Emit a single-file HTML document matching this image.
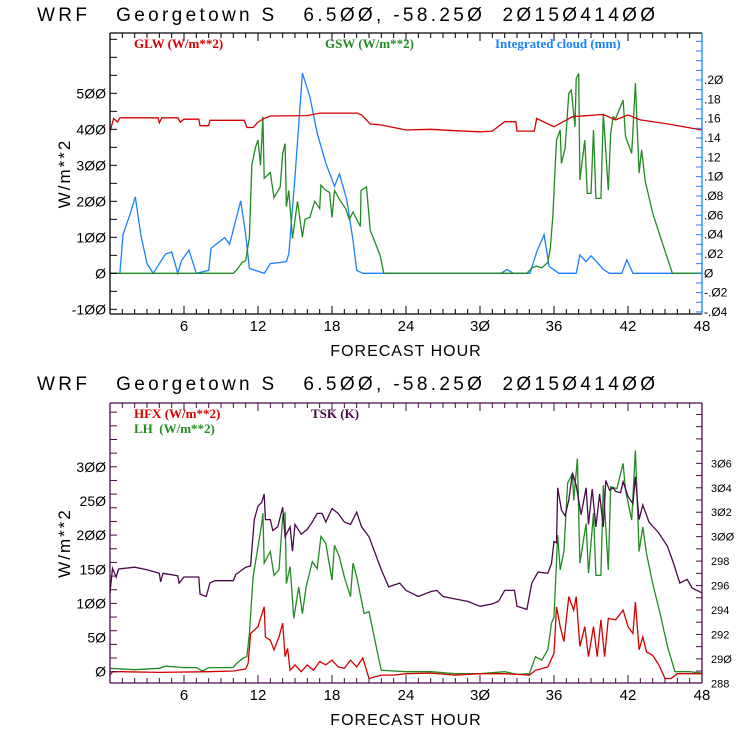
<!DOCTYPE html>
<html><head><meta charset="utf-8"><style>
html,body{margin:0;padding:0;background:#fff;}
svg{display:block;}
text{white-space:pre;}
</style></head><body>
<svg id="c" width="740" height="740" viewBox="0 0 740 740" xmlns="http://www.w3.org/2000/svg" font-family="'Liberation Sans', sans-serif"></svg>
<script>
// ---------- DATA ----------
const glwHours=[0,0.3,0.6,0.8,3.9,4.0,4.2,5.5,5.7,6.0,7.2,7.3,8.0,8.1,10.9,11.1,11.6,12.0,12.5,13,16,17,20,20.4,21.1,22,24,26,28,30,31,32,32.9,33,34.4,34.6,36,37.5,40,41,42,43,45,48];
const glwVals=[395,430,420,432,432,418,432,432,420,428,428,410,410,425,425,405,405,420,430,437,438,445,445,440,415,412,398,400,396,393,395,421,421,395,395,430,407,435,441,426,440,426,416,398];
const cldHours=[0,0.8,1.05,1.6,2.05,2.5,3.0,3.5,4.5,5.0,5.5,5.8,6.4,7.0,8.0,8.2,9.3,9.7,10.0,10.6,11.0,11.3,12.5,13.0,14.3,14.5,15.0,15.6,16.2,16.8,17.5,18.2,18.6,19.2,19.7,20.0,20.5,31.7,32.2,32.7,34.05,34.6,35.2,35.6,36.4,37.8,38.1,38.6,39.0,39.6,40.0,40.5,41.5,41.9,42.4,48];
const cldVals=[0,0,0.04,0.06,0.079,0.04,0.01,0,0.02,0.022,0,0.013,0.024,0,0.003,0.026,0.037,0.03,0.045,0.075,0.04,0.005,0,0.01,0.012,0.02,0.1,0.207,0.183,0.145,0.114,0.09,0.103,0.076,0.034,0.003,0,0,0.004,0,0,0.022,0.04,0.007,0,0,0.019,0.012,0.018,0.01,0.004,0,0,0.014,0,0];
const gswHours=[0,10,10.3,10.7,11,11.3,11.5,11.8,12,12.2,12.4,12.5,13,13.3,13.8,14,14.2,14.3,14.5,14.8,15.2,15.6,15.8,16.2,16.6,17,17.1,17.5,17.8,18,18.2,18.7,19.1,19.4,19.7,20.3,20.35,20.8,21.1,21.9,22.2,33.8,34.2,34.6,35,35.5,35.7,35.9,36.2,36.5,36.6,36.9,37.2,37.4,37.7,37.8,38,38.1,38.5,38.7,39,39.2,39.4,39.8,40,40.4,40.6,40.8,41,41.6,41.8,42.3,42.6,42.9,43.1,43.4,44,44.8,45.6,48];
const gswVals=[0,0,10,30,35,100,300,350,370,300,435,264,280,210,240,333,360,185,230,97,200,100,150,155,200,180,245,230,225,155,230,200,180,150,170,130,230,240,120,50,0,0,15,20,15,30,69,157,370,398,305,347,500,509,407,541,555,259,370,222,222,398,208,208,444,231,389,435,430,481,380,333,528,278,343,255,167,83,0,0];
const tskHours=[0,0.2,0.5,0.7,2,3,4,4.1,4.3,5.5,5.6,6,7.2,7.3,7.8,8.1,8.5,10,10.2,11,11.4,11.5,11.7,12,12.3,12.5,12.6,13,13.2,13.6,14,14.2,14.6,14.8,15,15.5,16,16.4,16.8,17.2,17.5,18,18.5,19,19.5,20,20.4,21,22,22.6,23.5,24,25,26,26.5,27,28,29,30,31,31.5,32,32.8,33,33.8,34.2,34.7,35.5,35.8,36,36.2,36.3,36.6,36.9,37.2,37.5,37.8,38.2,38.6,38.8,39.1,39.4,39.7,40,40.2,40.5,40.8,41,41.4,41.6,42,42.4,42.6,42.9,43.2,43.7,44.5,45.2,45.7,46.2,46.8,47.2,48];
const tskVals=[295.4,297.4,296.7,297.35,297.5,297.3,297.0,296.3,297.0,296.8,296.2,296.7,296.7,295.3,295.1,296.2,296.4,296.4,296.9,297.5,297.6,298.9,301.4,302.5,302.8,303.5,301.4,301.4,300.5,300.8,302.4,300,300.8,298.8,301,300.2,300.6,301.2,301.9,301.9,301.2,302.3,301.9,301.2,301,302,300.8,300,297.3,295.9,296.2,295.6,295.1,295.5,295.6,295.1,294.9,294.7,294.3,294.5,294.7,295.6,295.6,294.3,294.05,296.2,297.1,297,297.8,299.6,299.5,304,302.2,301.7,303,305.2,304.2,301.8,304,301,303.9,300.8,303.5,300.8,304.6,303.8,304,303.7,303.6,304.5,303.3,302.7,304.9,301.4,302.6,301.2,300.3,299.2,297.8,296.2,296.5,295.8,295.4];
const lhHours=[0,2,4,4.5,6,7,7.5,8,10,10.2,10.8,11.1,11.3,11.6,12,12.3,12.4,12.5,13,13.3,13.7,14,14.2,14.3,14.6,14.9,15.3,15.6,15.9,16.4,16.8,17.1,17.5,18,18.2,18.6,19,19.5,19.7,20,20.6,21,21.7,22,24,26,28,30,32,33,34,34.5,35,35.5,35.8,36,36.3,36.5,36.8,37.1,37.5,37.6,37.9,38.1,38.6,38.8,39.2,39.4,39.8,40,40.4,40.6,41.1,41.6,41.8,42.3,42.6,42.9,43.2,43.5,44,44.6,45.2,45.8,47,48];
const lhVals=[5,3,5,8,6,6,1,6,6,11,20,22,56,139,183,217,232,159,176,141,149,227,232,129,154,78,124,85,124,161,151,198,188,134,185,168,139,110,159,139,85,88,27,2,0,0,-3,-3,0,-4,-3,22,17,32,71,80,200,149,176,276,290,251,312,159,217,144,232,141,141,273,149,271,268,305,266,222,324,176,212,173,129,85,37,0,0,-2];
const hfxHours=[0,0.2,1,4,8,10,11,11.2,11.4,12,12.2,12.5,12.6,13,13.3,13.7,14,14.2,14.4,14.6,15,15.5,16,16.5,17,17.5,18,18.5,19,19.5,20,20.5,21,22,23,24,26,28,30,32,34,34.5,35.5,36,36.2,36.5,36.8,37.2,37.6,37.8,38.1,38.5,38.8,39.2,39.5,39.8,40.1,40.4,41,41.6,42,42.4,42.6,42.9,43.2,43.5,44,44.5,45,45.5,46,48];
const hfxVals=[-5,0,0,-1,0,1,4,12,56,66,78,95,51,46,32,51,71,22,34,2,10,0,10,2,15,10,17,7,5,17,7,20,-10,-5,-5,-3,-2,-5,-3,-3,-5,2,7,27,95,66,44,110,90,110,37,66,22,66,22,76,22,78,76,90,66,56,102,32,51,29,24,10,-10,-10,-3,-3];
const xTicks=[6,12,18,24,30,36,42,48];
const topLeftTicks=[-100,0,100,200,300,400,500];
const topRightTicks=[-0.04,-0.02,0,0.02,0.04,0.06,0.08,0.10,0.12,0.14,0.16,0.18,0.20];
const botLeftTicks=[0,50,100,150,200,250,300];
const botRightTicks=[288,290,292,294,296,298,300,302,304,306];

// ---------- GEOMETRY ----------
const svg=document.getElementById('c');
const NS='http://www.w3.org/2000/svg';
const X0=110,X1=702;
const xs=h=>X0+(X1-X0)*h/48;
const T={top:33,bot:314};
const yTL=v=>273.3-v*0.36;
const yTR=v=>273.3-v*966.5;
const B={top:403,bot:683};
const yBL=v=>671.7-v*0.683;
const yBR=v=>683.3-(v-288)*12.22;

function el(tag,attrs,parent){const e=document.createElementNS(NS,tag);for(const k in attrs)e.setAttribute(k,attrs[k]);(parent||svg).appendChild(e);return e;}
function txt(s,x,y,attrs,name){const t=el('text',Object.assign({x:x,y:y},attrs));t.textContent=s;


return t;}
function series(hours,vals,yf,color,name){let d='';hours.forEach((h,i)=>{d+=(i?'L':'M')+xs(h).toFixed(1)+' '+yf(vals[i]).toFixed(1);});
const p=el('path',{d:d,fill:'none',stroke:color,'stroke-width':1.3,'stroke-linejoin':'miter'});


}

function panel(P,frame,rightColor,yL,yR,lt,rt,lMinor,lRange,rMinor,rRange,rFmt,rSize,prefix){
  for(let h=1;h<48;h++){const major=h%6===0;const L=major?8:5;
    el('line',{x1:xs(h),x2:xs(h),y1:P.bot,y2:P.bot-L,stroke:frame,'stroke-width':1});
    el('line',{x1:xs(h),x2:xs(h),y1:P.top,y2:P.top+L,stroke:frame,'stroke-width':1});}
  for(let v=lRange[0];v<=lRange[1];v+=lMinor){const y=yL(v);if(y<P.top||y>P.bot)continue;
    el('line',{x1:X0,x2:X0+7,y1:y,y2:y,stroke:frame,'stroke-width':1});}
  for(let v=rRange[0];v<=rRange[1]+1e-9;v+=rMinor){const y=yR(v);if(y<P.top||y>P.bot)continue;
    el('line',{x1:X1,x2:X1-6,y1:y,y2:y,stroke:rightColor,'stroke-width':1});}
  el('line',{x1:X0,x2:X0,y1:P.top,y2:P.bot,stroke:frame,'stroke-width':1.3});
  el('line',{x1:X0,x2:X1,y1:P.bot,y2:P.bot,stroke:frame,'stroke-width':1.3});
  el('line',{x1:X0,x2:X1,y1:P.top,y2:P.top,stroke:frame,'stroke-width':1.3});
  el('line',{x1:X1,x2:X1,y1:P.top,y2:P.bot,stroke:rightColor,'stroke-width':1.3});
  xTicks.forEach(h=>txt(String(h).replace(/0/g,'Ø'),xs(h),P.bot+17,{'font-size':15,'text-anchor':'middle',fill:'#000'},prefix+'x-tick-'+h));
  lt.forEach(v=>txt(String(v).replace(/0/g,'Ø'),106,yL(v)+5,{'font-size':14,'text-anchor':'end',fill:'#000'},prefix+'y-tick-'+v));
  rt.forEach(v=>txt(rFmt(v),rFmt===fmtK?711:704,yR(v)+4,{'font-size':rSize,'text-anchor':'start',fill:'#000'},prefix+'y2-tick-'+v));
  txt('FORECAST HOUR',406,P.bot+42,{'font-size':16,'text-anchor':'middle',fill:'#000','letter-spacing':'1'},prefix+'x-axis-title');
  const cy=(P.top+P.bot)/2;
  txt('W/m**2',70,cy,{'font-size':17,'text-anchor':'middle',fill:'#000',transform:'rotate(-90 70 '+cy+')','letter-spacing':'2'},prefix+'y-axis-title');
}
function fmtC(v){if(Math.abs(v)<1e-9)return 'Ø';let s=Math.abs(v).toFixed(2).replace(/^0/,'').replace(/0/g,'Ø');return (v<0?'-':'')+s;}
function fmtK(v){return String(v).replace(/0/g,'Ø');}

const title='WRF   Georgetown S   6.500, -58.250  2015041400'.replace(/0/g,'Ø');
txt(title,37,21,{'font-size':19,fill:'#000',textLength:618,lengthAdjust:'spacing'},'top-chart-title');
txt(title,37,390,{'font-size':19,fill:'#000',textLength:618,lengthAdjust:'spacing'},'bottom-chart-title');

series(cldHours,cldVals,yTR,'#1a80ff','cloud-line');
series(gswHours,gswVals,yTL,'#228b22','gsw-line');
series(glwHours,glwVals,yTL,'#d40000','glw-line');
panel(T,'#000','#1a80ff',yTL,yTR,topLeftTicks,topRightTicks,50,[-100,650],0.01,[-0.04,0.245],fmtC,12,'top-');
const lg={'font-family':"'Liberation Serif', serif",'font-size':13,'font-weight':'bold'};
txt('GLW (W/m**2)',134,48,Object.assign({fill:'#d40000'},lg),'legend-glw');
txt('GSW (W/m**2)',325,48,Object.assign({fill:'#228b22'},lg),'legend-gsw');
txt('Integrated cloud (mm)',495,48,Object.assign({fill:'#1a80ff'},lg),'legend-cloud');

series(lhHours,lhVals,yBL,'#228b22','lh-line');
series(hfxHours,hfxVals,yBL,'#d40000','hfx-line');
series(tskHours,tskVals,yBR,'#4a0a4a','tsk-line');
panel(B,'#4a0a4a','#4a0a4a',yBL,yBR,botLeftTicks,botRightTicks,20,[0,400],1,[288,310],fmtK,11,'bottom-');
txt('HFX (W/m**2)',134,418,Object.assign({fill:'#d40000'},lg),'legend-hfx');
txt('LH  (W/m**2)',134,433,Object.assign({fill:'#228b22'},lg),'legend-lh');
txt('TSK (K)',311,418,Object.assign({fill:'#4a0a4a'},lg),'legend-tsk');
</script>
</body></html>
